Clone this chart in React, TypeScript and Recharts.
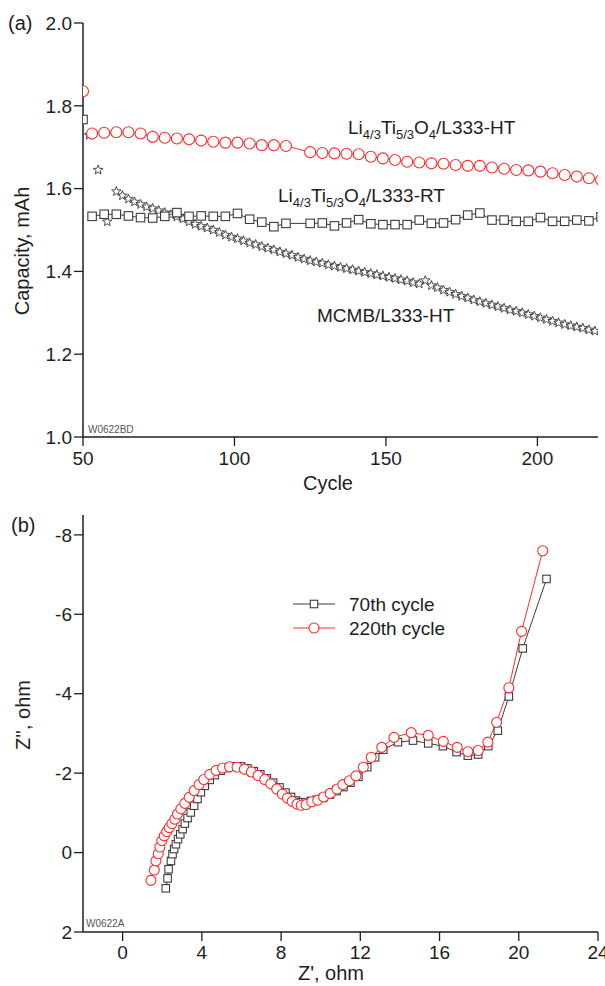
import React from "react";
import { ComposedChart, Line, Scatter, XAxis, YAxis } from "recharts";

const FONT = '"Liberation Sans", Arial, Helvetica, sans-serif';
const INK = "#1e1e1e";
const RED = "#ff2b2b";
const GREY = "#3c3c3c";

// ---- panel (a): capacity vs cycle ----
const ltoCycles = [
  53, 57, 61, 65, 69, 73, 77, 81, 85, 89, 93, 97, 101, 105, 109, 113, 117,
  125, 129, 133, 137, 141, 145, 149, 153, 157, 161, 165, 169, 173, 177, 181,
  185, 189, 193, 197, 201, 205, 209, 213, 217, 221,
];
const ltoHtCap = [
  1.733, 1.735, 1.736, 1.736, 1.733, 1.725, 1.723, 1.721, 1.719, 1.716, 1.713,
  1.711, 1.711, 1.709, 1.705, 1.705, 1.703, 1.688, 1.686, 1.685, 1.684, 1.683,
  1.677, 1.673, 1.669, 1.665, 1.663, 1.661, 1.66, 1.657, 1.655, 1.655, 1.651,
  1.648, 1.645, 1.644, 1.641, 1.637, 1.633, 1.629, 1.625, 1.621,
];
const ltoRtCap = [
  1.533, 1.538, 1.538, 1.534, 1.53, 1.529, 1.533, 1.542, 1.533, 1.534, 1.533,
  1.533, 1.54, 1.526, 1.519, 1.508, 1.516, 1.516, 1.517, 1.51, 1.517, 1.525,
  1.515, 1.513, 1.513, 1.513, 1.524, 1.516, 1.517, 1.525, 1.536, 1.541, 1.524,
  1.524, 1.521, 1.521, 1.53, 1.521, 1.521, 1.524, 1.522, 1.532,
];
// first-cycle points sitting on the left axis
const firstCycle = [50];
const ltoHtFirst = [1.835];
const ltoRtFirst = [1.767];

const mcmbCycles = [
  52, 55, 58, 61, 63, 65, 67, 69, 71, 73, 75, 77, 79, 81, 83, 85, 87, 89, 91,
  93, 95, 97, 99, 101, 103, 105, 107, 109, 111, 113, 115, 117, 119, 121, 123,
  125, 127, 129, 131, 133, 135, 137, 139, 141, 143, 145, 147, 149, 151, 153,
  155, 157, 159, 161, 163, 165, 167, 169, 171, 173, 175, 177, 179, 181, 183,
  185, 187, 189, 191, 193, 195, 197, 199, 201, 203, 205, 207, 209, 211, 213,
  215, 217, 219,
];
const mcmbCap = [
  1.729, 1.645, 1.52, 1.593, 1.583, 1.575, 1.568, 1.562, 1.556, 1.552, 1.547,
  1.542, 1.537, 1.532, 1.527, 1.52, 1.514, 1.509, 1.505, 1.5, 1.494, 1.488,
  1.483, 1.479, 1.474, 1.469, 1.465, 1.46, 1.456, 1.452, 1.447, 1.443, 1.439,
  1.434, 1.43, 1.426, 1.423, 1.42, 1.416, 1.413, 1.41, 1.407, 1.404, 1.401,
  1.398, 1.395, 1.392, 1.389, 1.386, 1.383, 1.38, 1.377, 1.373, 1.37, 1.378,
  1.366, 1.361, 1.355, 1.35, 1.345, 1.34, 1.336, 1.331, 1.327, 1.323, 1.319,
  1.315, 1.311, 1.307, 1.304, 1.3, 1.296, 1.292, 1.288, 1.284, 1.28, 1.276,
  1.272, 1.269, 1.266, 1.263, 1.259, 1.256,
];

const cycleMajor = [50, 100, 150, 200];
const cycleMinor = [75, 125, 175];
const capMajor = [1.0, 1.2, 1.4, 1.6, 1.8, 2.0];
const capMinor = [1.1, 1.3, 1.5, 1.7, 1.9];

// ---- panel (b): Nyquist plot ----
const zRe70 = [
  2.18, 2.27, 2.32, 2.44, 2.52, 2.6, 2.69, 2.8, 2.91, 3.03, 3.14, 3.28, 3.44,
  3.61, 3.78, 3.95, 4.15, 4.4, 4.65, 4.95, 5.28, 5.62, 5.98, 6.3, 6.62, 6.95,
  7.28, 7.6, 7.92, 8.22, 8.5, 8.75, 8.98, 9.22, 9.5, 9.8, 10.12, 10.46, 10.8,
  11.15, 11.5, 11.9, 12.35, 12.75, 13.16, 13.9, 14.66, 15.43, 16.17, 16.86,
  17.43, 17.95, 18.46, 18.94, 19.5, 20.2, 21.4,
];
const zIm70 = [
  0.9, 0.65, 0.42, 0.21, 0.04, -0.09, -0.21, -0.34, -0.46, -0.59, -0.73, -0.87,
  -1.01, -1.18, -1.35, -1.52, -1.68, -1.83, -1.95, -2.06, -2.13, -2.17, -2.17,
  -2.12, -2.05, -1.97, -1.87, -1.76, -1.64, -1.51, -1.4, -1.31, -1.27, -1.26,
  -1.3, -1.33, -1.38, -1.46, -1.55, -1.65, -1.76, -1.91, -2.15, -2.4, -2.59,
  -2.78, -2.82, -2.75, -2.68, -2.53, -2.44, -2.47, -2.68, -3.07, -3.93, -5.14,
  -6.89,
];
const zRe220 = [
  1.43, 1.6, 1.68, 1.8, 1.88, 1.98, 2.1, 2.23, 2.35, 2.49, 2.64, 2.77, 2.94,
  3.14, 3.36, 3.61, 3.86, 4.1, 4.4, 4.72, 5.05, 5.4, 5.78, 6.15, 6.5, 6.84,
  7.18, 7.48, 7.78, 8.06, 8.32, 8.56, 8.8, 9.02, 9.26, 9.55, 9.85, 10.15,
  10.48, 10.82, 11.12, 11.45, 11.78, 12.15, 12.55, 13.08, 13.7, 14.57, 15.43,
  16.19, 16.89, 17.43, 17.95, 18.44, 18.88, 19.5, 20.14, 21.21,
];
const zIm220 = [
  0.7, 0.44, 0.21, 0.03, -0.14, -0.3, -0.42, -0.53, -0.63, -0.73, -0.84, -0.97,
  -1.1, -1.24, -1.39, -1.56, -1.71, -1.84, -1.97, -2.07, -2.13, -2.16, -2.15,
  -2.1, -2.03, -1.94, -1.84, -1.73, -1.6, -1.47, -1.37, -1.29, -1.22, -1.19,
  -1.21, -1.28, -1.32, -1.4, -1.49, -1.6, -1.71, -1.81, -1.93, -2.15, -2.4,
  -2.65, -2.9, -3.02, -2.95, -2.8, -2.65, -2.54, -2.57, -2.78, -3.28, -4.15,
  -5.57, -7.6,
];

const zReMajor = [0, 4, 8, 12, 16, 20, 24];
const zReMinor = [-2, 2, 6, 10, 14, 18, 22];
const zImMajor = [-8, -6, -4, -2, 0, 2];
const zImMinor = [-7, -5, -3, -1, 1];

const toPoints = (xs: number[], ys: number[]) =>
  xs.map((x, i) => ({ x, y: ys[i] }));

const htData = toPoints(ltoCycles, ltoHtCap);
const rtData = toPoints(ltoCycles, ltoRtCap);
const htFirstData = toPoints(firstCycle, ltoHtFirst);
const rtFirstData = toPoints(firstCycle, ltoRtFirst);
const mcmbData = toPoints(mcmbCycles, mcmbCap);
const eis70Data = toPoints(zRe70, zIm70);
const eis220Data = toPoints(zRe220, zIm220);

// ---- markers ----
const starPath = (cx: number, cy: number, R: number) => {
  const pts: string[] = [];
  for (let k = 0; k < 10; k++) {
    const rad = k % 2 === 0 ? R : R * 0.42;
    const a = -Math.PI / 2 + (k * Math.PI) / 5;
    pts.push(`${(cx + rad * Math.cos(a)).toFixed(2)},${(cy + rad * Math.sin(a)).toFixed(2)}`);
  }
  return "M" + pts.join("L") + "Z";
};

const circleDot = (color: string, r: number) => (p: any) =>
  p.cx == null ? <g key={p.index} /> : (
    <circle key={p.index} cx={p.cx} cy={p.cy} r={r} fill="#fff" stroke={color} strokeWidth={1.1} />
  );

const squareDot = (color: string, s: number) => (p: any) =>
  p.cx == null ? <g key={p.index} /> : (
    <rect key={p.index} x={p.cx - s / 2} y={p.cy - s / 2} width={s} height={s} fill="#fff" stroke={color} strokeWidth={1.1} />
  );

const starShape = (p: any) => (
  <path d={starPath(p.cx, p.cy, 5)} fill="none" stroke={GREY} strokeWidth={0.9} />
);

// ---- axes: majors and minors are separate stacked axes (minor ones have zero size) ----
const AXIS = { stroke: INK, strokeWidth: 1.5 };
const TL = { stroke: INK, strokeWidth: 1.3 };
const tickFont = { fontSize: 19, fill: INK, fontFamily: FONT };
const common = { type: "number" as const, interval: 0 as const, allowDataOverflow: true, tickLine: TL };
const major = { ...common, tickSize: 9 };
const minor = { ...common, tickSize: 5, tick: false, axisLine: false };

const txt = { fontFamily: FONT, fill: INK } as const;
const sub = { fontSize: 13 };

const App = () => {
  return (
    <div style={{ position: "absolute", left: 0, top: 0, width: 605, height: 986, background: "#fff" }}>
      <div style={{ position: "absolute", left: 0, top: 0 }}>
        <ComposedChart width={605} height={500} margin={{ top: 23, right: 7, bottom: 0, left: 0 }}>
          <XAxis xAxisId="bm" domain={[50, 220]} ticks={cycleMinor} height={0} {...minor} />
          <XAxis xAxisId="b" dataKey="x" domain={[50, 220]} ticks={cycleMajor} height={63}
            axisLine={AXIS} tick={tickFont} tickMargin={6} {...major} />
          <XAxis xAxisId="tm" orientation="top" mirror domain={[50, 220]} ticks={cycleMinor} height={0} {...minor} />
          <XAxis xAxisId="t" orientation="top" mirror domain={[50, 220]} ticks={cycleMajor} height={0}
            axisLine={AXIS} tick={false} {...major} />
          <YAxis yAxisId="lm" domain={[1, 2]} ticks={capMinor} width={0} {...minor} />
          <YAxis yAxisId="l" dataKey="y" domain={[1, 2]} ticks={capMajor} width={83}
            axisLine={AXIS} tick={tickFont} tickMargin={2} tickFormatter={(v: number) => v.toFixed(1)} {...major} />
          <YAxis yAxisId="rm" orientation="right" mirror domain={[1, 2]} ticks={capMinor} width={0} {...minor} />
          <YAxis yAxisId="r" orientation="right" mirror domain={[1, 2]} ticks={capMajor} width={0}
            axisLine={AXIS} tick={false} {...major} />

          <Scatter xAxisId="b" yAxisId="l" data={mcmbData} dataKey="y" shape={starShape} isAnimationActive={false} />
          <Line xAxisId="b" yAxisId="l" data={rtData} dataKey="y" type="linear" stroke={GREY} strokeWidth={1}
            dot={squareDot(GREY, 8.5)} activeDot={false} isAnimationActive={false} />
          <Scatter xAxisId="b" yAxisId="l" data={rtFirstData} dataKey="y"
            shape={(p: any) => <rect x={p.cx - 4.25} y={p.cy - 4.25} width={8.5} height={8.5} fill="#fff" stroke={GREY} strokeWidth={1.1} />}
            isAnimationActive={false} />
          <Line xAxisId="b" yAxisId="l" data={htData} dataKey="y" type="linear" stroke={RED} strokeWidth={1}
            dot={circleDot(RED, 5.5)} activeDot={false} isAnimationActive={false} />
          <Scatter xAxisId="b" yAxisId="l" data={htFirstData} dataKey="y"
            shape={(p: any) => <circle cx={p.cx} cy={p.cy} r={5.5} fill="#fff" stroke={RED} strokeWidth={1.1} />}
            isAnimationActive={false} />
        </ComposedChart>
      </div>

      <div style={{ position: "absolute", left: 0, top: 500 }}>
        <ComposedChart width={605} height={486} margin={{ top: 15, right: 7, bottom: 0, left: 0 }}>
          <XAxis xAxisId="bm" domain={[-2, 24]} ticks={zReMinor} height={0} {...minor} />
          <XAxis xAxisId="b" dataKey="x" domain={[-2, 24]} ticks={zReMajor} height={54}
            axisLine={AXIS} tick={tickFont} tickMargin={5} {...major} />
          <XAxis xAxisId="tm" orientation="top" mirror domain={[-2, 24]} ticks={zReMinor} height={0} {...minor} />
          <XAxis xAxisId="t" orientation="top" mirror domain={[-2, 24]} ticks={zReMajor} height={0}
            axisLine={AXIS} tick={false} {...major} />
          <YAxis yAxisId="lm" reversed domain={[-8.5, 2]} ticks={zImMinor} width={0} {...minor} />
          <YAxis yAxisId="l" dataKey="y" reversed domain={[-8.5, 2]} ticks={zImMajor} width={83}
            axisLine={AXIS} tick={tickFont} tickMargin={2} {...major} />
          <YAxis yAxisId="rm" orientation="right" mirror reversed domain={[-8.5, 2]} ticks={zImMinor} width={0} {...minor} />
          <YAxis yAxisId="r" orientation="right" mirror reversed domain={[-8.5, 2]} ticks={zImMajor} width={0}
            axisLine={AXIS} tick={false} {...major} />

          <Line xAxisId="b" yAxisId="l" data={eis70Data} dataKey="y" type="linear" stroke={GREY} strokeWidth={1}
            dot={squareDot(GREY, 7.5)} activeDot={false} isAnimationActive={false} />
          <Line xAxisId="b" yAxisId="l" data={eis220Data} dataKey="y" type="linear" stroke={RED} strokeWidth={1}
            dot={circleDot(RED, 5)} activeDot={false} isAnimationActive={false} />
        </ComposedChart>
      </div>

      <svg width={605} height={986} style={{ position: "absolute", left: 0, top: 0, pointerEvents: "none" }}>
        {/* panel (a) */}
        <text x={8} y={30} fontSize={20} {...txt}>(a)</text>
        <text transform="translate(29,251) rotate(-90)" textAnchor="middle" fontSize={20} {...txt}>Capacity, mAh</text>
        <text x={328} y={490} textAnchor="middle" fontSize={20} {...txt}>Cycle</text>
        <text x={88} y={433} fontSize={10} fontFamily={FONT} fill="#555">W0622BD</text>

        <text x={348} y={134} fontSize={19} {...txt}>
          Li<tspan dy={5} style={sub}>4/3</tspan>
          <tspan dy={-5}>Ti</tspan>
          <tspan dy={5} style={sub}>5/3</tspan>
          <tspan dy={-5}>O</tspan>
          <tspan dy={5} style={sub}>4</tspan>
          <tspan dy={-5}>/L333-HT</tspan>
        </text>
        <text x={278} y={202} fontSize={19} {...txt}>
          Li<tspan dy={5} style={sub}>4/3</tspan>
          <tspan dy={-5}>Ti</tspan>
          <tspan dy={5} style={sub}>5/3</tspan>
          <tspan dy={-5}>O</tspan>
          <tspan dy={5} style={sub}>4</tspan>
          <tspan dy={-5}>/L333-RT</tspan>
        </text>
        <text x={317} y={322} fontSize={19} {...txt}>MCMB/L333-HT</text>

        {/* panel (b) */}
        <text x={11} y={532} fontSize={20} {...txt}>(b)</text>
        <text transform="translate(30,715) rotate(-90)" textAnchor="middle" fontSize={20} {...txt}>Z'', ohm</text>
        <text x={331} y={980} textAnchor="middle" fontSize={20} {...txt}>Z', ohm</text>
        <text x={86} y={927} fontSize={10} fontFamily={FONT} fill="#555">W0622A</text>

        <line x1={293} y1={604} x2={335} y2={604} stroke={GREY} strokeWidth={1} />
        <rect x={310.25} y={600.25} width={7.5} height={7.5} fill="#fff" stroke={GREY} strokeWidth={1.1} />
        <text x={349} y={611} fontSize={19} {...txt}>70th cycle</text>
        <line x1={293} y1={628} x2={335} y2={628} stroke={RED} strokeWidth={1} />
        <circle cx={314} cy={628} r={5} fill="#fff" stroke={RED} strokeWidth={1.1} />
        <text x={349} y={635} fontSize={19} {...txt}>220th cycle</text>
      </svg>
    </div>
  );
};

export default App;
